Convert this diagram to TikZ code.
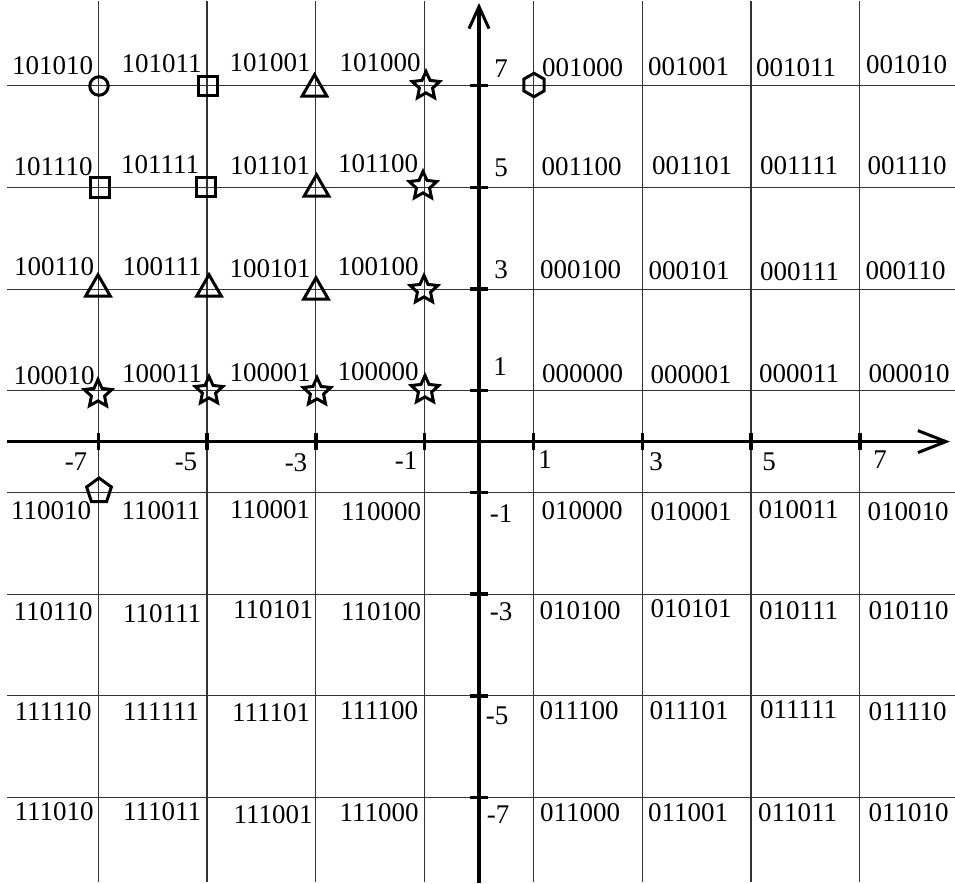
\documentclass[tikz,border=0pt]{standalone}
\usepackage{fontspec}
\setmainfont{Liberation Serif}
\usetikzlibrary{shapes.geometric,shapes.misc,arrows.meta}
\begin{document}
\begin{tikzpicture}[x=1pt,y=-1pt,
  gridline/.style={draw=black!80,line width=1.1pt},
  axisline/.style={draw=black,line width=3.4pt},
  tickm/.style={draw=black,line width=3.4pt},
  lbl/.style={inner sep=0pt,anchor=center,font=\fontsize{27}{30}\selectfont},
  mk/.style={draw=black,line width=3pt,inner sep=0pt,fill=none},
  circm/.style={mk,circle,minimum size=18.5pt},
  sqm/.style={mk,rectangle,minimum size=19.5pt},
  trim/.style={mk,regular polygon,regular polygon sides=3,minimum size=28.5pt},
  starm/.style={mk,star,star points=5,star point ratio=2.1,minimum size=29pt},
  hexm/.style={mk,regular polygon,regular polygon sides=6,shape border rotate=30,minimum size=23.5pt},
  pentm/.style={mk,regular polygon,regular polygon sides=5,minimum size=26pt}]
\useasboundingbox[fill=white] (0,0) rectangle (955,883);

% grid
\foreach \i in {-7,-5,-3,-1,1,3,5,7} {
  \draw[gridline] ({479+54.4*\i},1) -- ({479+54.4*\i},882);
  \draw[gridline] (7,{441.6-50.85*\i}) -- (955,{441.6-50.85*\i});
}

% axes
\coordinate (xs) at (7,441.6);
\coordinate (xe) at (950,441.6);
\coordinate (ys) at (479,883);
\coordinate (ye) at (479,3);
\draw[axisline,-{Straight Barb[length=28pt,width=22pt,line width=3pt]}] (xs) -- (xe);
\draw[axisline,-{Straight Barb[length=22pt,width=20pt,line width=3pt]}] (ys) -- (ye);

% ticks
\foreach \i in {-7,-5,-3,-1,1,3,5,7} {
  \draw[tickm] ({479+54.4*\i},433) -- ({479+54.4*\i},450);
  \draw[tickm] (470,{441.6-50.85*\i}) -- (488,{441.6-50.85*\i});
}

% axis numbers
\foreach \n/\x/\y/\t in {xa/76/462/-7, xb/186/462/-5, xc/296/463/-3, xd/406/461/-1,
  xf/545/460/1, xg/656/462/3, xh/769/462/5, xi/880/460/7,
  ya/501/69/7, yb/501/168/5, yc/501/270/3, yd/500/367/1,
  yf/501/514/-1, yg/501/612/-3, yh/497/716/-5, yi/498/815/-7}
  \node[lbl] (\n) at (\x,\y) {\t};

% constellation labels
\foreach \t/\x/\y in {
  101010/52.7/65.3, 101011/161.7/64, 101001/270/63, 101000/380/63,
  101110/53/167, 101111/160/165, 101101/270/166, 101100/378/164,
  100110/54/267, 100111/162/267, 100101/270/269, 100100/378/267,
  100010/54/376, 100011/162/374, 100001/270/372.5, 100000/378/372,
  001000/582.5/67.5, 001001/688.5/67, 001011/796/67.5, 001010/906.5/65,
  001100/581.5/167, 001101/692/166, 001111/799/166, 001110/907/166,
  000100/580.5/270, 000101/689/271, 000111/799.5/272, 000110/905.5/271,
  000000/582.5/374, 000001/691/375, 000011/799/374, 000010/909/374,
  110010/51/511, 110011/161/511, 110001/270/510, 110000/381/512,
  110110/53/612, 110111/162/614, 110101/273/610, 110100/381/612,
  111110/53/712, 111111/161/712, 111101/271/713, 111100/379/711,
  111010/54/812, 111011/162/812, 111001/273/815, 111000/379/813,
  010000/582/510.5, 010001/691/512, 010011/798.5/510, 010010/908/512,
  010100/580/611, 010101/691/609, 010111/798.5/611, 010110/908.5/611,
  011100/579/711, 011101/689/711, 011111/798.5/710, 011110/907.5/712,
  011000/580/813, 011001/688/813, 011011/797.5/813, 011010/908.5/813}
  \node[lbl] (c\t) at (\x,\y) {\t};

% markers
\node[circm] (m1) at (99,86) {};
\node[sqm] (m2) at (208,86) {};
\node[sqm] (m3) at (100,187.5) {};
\node[sqm] (m4) at (206,187) {};
\node[trim] (m5) at (314.5,89) {};
\node[trim] (m6) at (316.5,189) {};
\node[trim] (m7) at (98,289) {};
\node[trim] (m8) at (209,289) {};
\node[trim] (m9) at (316,292) {};
\node[starm] (m10) at (426,86) {};
\node[starm] (m11) at (423,186) {};
\node[starm] (m12) at (424,290) {};
\node[starm] (m13) at (98,394) {};
\node[starm] (m14) at (209,391) {};
\node[starm] (m15) at (317,392) {};
\node[starm] (m16) at (425,390) {};
\node[hexm] (m17) at (534,85) {};
\node[pentm] (m18) at (99,491) {};
\end{tikzpicture}
\end{document}
